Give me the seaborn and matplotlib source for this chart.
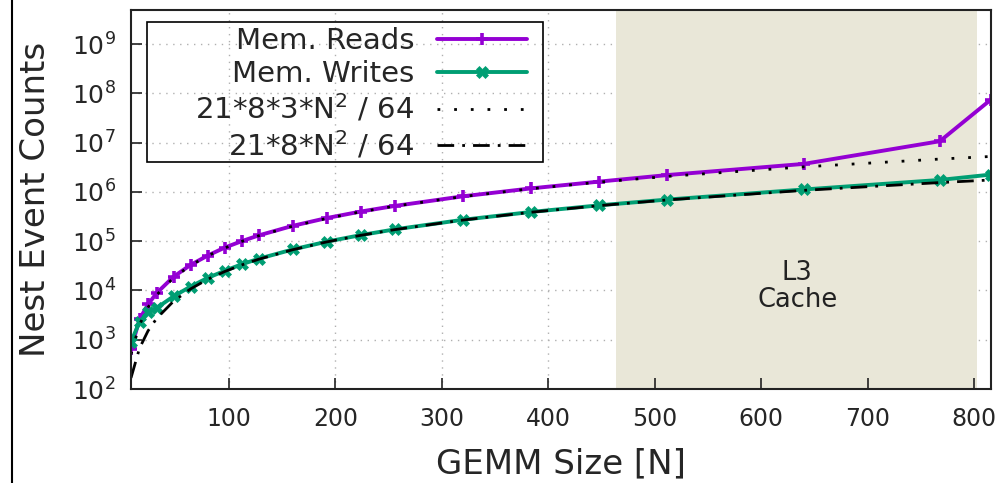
import numpy as np
import pandas as pd
import matplotlib
matplotlib.use("Agg")
import matplotlib.pyplot as plt
import matplotlib.transforms as mtransforms
from matplotlib.lines import Line2D
from matplotlib.patches import Rectangle, PathPatch
from matplotlib.path import Path
import seaborn as sns

# GEMM sizes and measured nest event counts
sizes = [8, 16, 24, 32, 48, 64, 80, 96, 112, 128, 160, 192, 224, 256,
         320, 384, 448, 512, 640, 768, 816]
mem_reads = [650, 2600, 5200, 8800, 19000, 33000, 51000, 74000, 100000, 131000,
             205000, 295000, 400000, 520000, 815000, 1180000, 1620000, 2200000,
             3700000, 10700000, 75000000]
mem_writes = [900, 2300, 3600, 4400, 7600, 12000, 18000, 25000, 34000, 44000,
              68000, 98000, 133000, 174000, 272000, 392000, 535000, 700000,
              1120000, 1750000, 2250000]
# model curves 21*8*3*N^2/64 and 21*8*N^2/64 at the same sizes
model_reads = [504, 2016, 4536, 8064, 18144, 32256, 50400, 72576, 98784, 129024,
               201600, 290304, 395136, 516096, 806400, 1161216, 1580544, 2064384,
               3225600, 4644864, 5243616]
model_writes = [168, 672, 1512, 2688, 6048, 10752, 16800, 24192, 32928, 43008,
                67200, 96768, 131712, 172032, 268800, 387072, 526848, 688128,
                1075200, 1548288, 1747872]

l3_span = (464, 803)

df = pd.DataFrame({"N": sizes, "reads": mem_reads, "writes": mem_writes,
                   "m_reads": model_reads, "m_writes": model_writes})

sns.set_style("white")
plt.rcParams["font.family"] = ["DejaVu Sans"]
plt.rcParams["mathtext.fontset"] = "dejavusans"

PURPLE = "#9400d3"
GREEN = "#009e73"

fig = plt.figure(figsize=(10.03, 4.83), dpi=100)
ax = fig.add_axes([0.1306, 0.1946, 0.988 - 0.1306, 0.980 - 0.1946])

ax.axvspan(l3_span[0], l3_span[1], color="#e9e7d8", zorder=0, lw=0)

sns.lineplot(data=df, x="N", y="reads", ax=ax, color=PURPLE, lw=2.8,
             marker="+", markersize=8, markeredgewidth=2.6,
             markeredgecolor=PURPLE, label="Mem. Reads")
sns.lineplot(data=df, x="N", y="writes", ax=ax, color=GREEN, lw=2.8,
             marker="X", markersize=8.5, markeredgewidth=0.5,
             markeredgecolor=GREEN, markerfacecolor=GREEN, label="Mem. Writes")
sns.lineplot(data=df, x="N", y="m_reads", ax=ax, color="black", lw=2,
             linestyle=(0, (1, 5)), label="21*8*3*N$^2$ / 64")
sns.lineplot(data=df, x="N", y="m_writes", ax=ax, color="black", lw=2,
             linestyle=(0, (6, 2.9, 1, 2.9)), label="21*8*N$^2$ / 64")

ax.set_yscale("log")
ax.set_xlim(8, 816)
ax.set_ylim(100, 5e9)
ax.set_xticks([100, 200, 300, 400, 500, 600, 700, 800])
ax.set_yticks([10.0**k for k in range(2, 10)])
ax.tick_params(axis="both", which="both", direction="in", labelsize=17,
               top=False, right=False, left=True, bottom=True, color="#222222")
ax.tick_params(axis="x", which="major", length=8, width=1.2, pad=13)
ax.tick_params(axis="y", which="major", length=8, width=1.2, pad=11,
               labelsize=18)
ax.tick_params(axis="y", which="minor", length=4, width=1)
ax.grid(True, which="major", color="#b0b0b0", linestyle=(0, (1, 4)), lw=1)
for s in ax.spines.values():
    s.set_color("#222222")
    s.set_linewidth(1.5)

# keep the grid out of the shaded L3 region
blend = mtransforms.blended_transform_factory(ax.transData, ax.transAxes)
x0, x1 = ax.get_xlim()
clip_path = Path(
    [(x0, 0), (l3_span[0], 0), (l3_span[0], 1), (x0, 1), (x0, 0),
     (l3_span[1], 0), (x1, 0), (x1, 1), (l3_span[1], 1), (l3_span[1], 0)],
    [Path.MOVETO, Path.LINETO, Path.LINETO, Path.LINETO, Path.CLOSEPOLY,
     Path.MOVETO, Path.LINETO, Path.LINETO, Path.LINETO, Path.CLOSEPOLY])
clip_patch = PathPatch(clip_path, transform=blend)
for gl in ax.xaxis.get_gridlines() + ax.yaxis.get_gridlines():
    gl.set_clip_path(clip_patch)

ax.set_xlabel("GEMM Size [N]", fontsize=24.5, labelpad=12)
ax.set_ylabel("Nest Event Counts", fontsize=24.5, labelpad=14)

ax.text(634, 1.18e4, "L3\nCache", ha="center", va="center", fontsize=18.5,
        color="#222222", linespacing=1.05)

leg = ax.legend(loc="upper right", bbox_to_anchor=(0.4605, 0.953), fontsize=21,
                markerfirst=False, handlelength=3.1, frameon=False,
                borderpad=0, labelspacing=0.16, handletextpad=0.75,
                borderaxespad=0)
ax.add_patch(Rectangle((0.0186, 0.598), 0.479 - 0.0186, 0.967 - 0.598,
                       transform=ax.transAxes, fill=False, edgecolor="black",
                       lw=1.2, zorder=4))

fig.add_artist(Line2D([0.012, 0.012], [0, 1], transform=fig.transFigure,
                      color="black", lw=1.5))

fig.savefig("out.png", dpi=100)
